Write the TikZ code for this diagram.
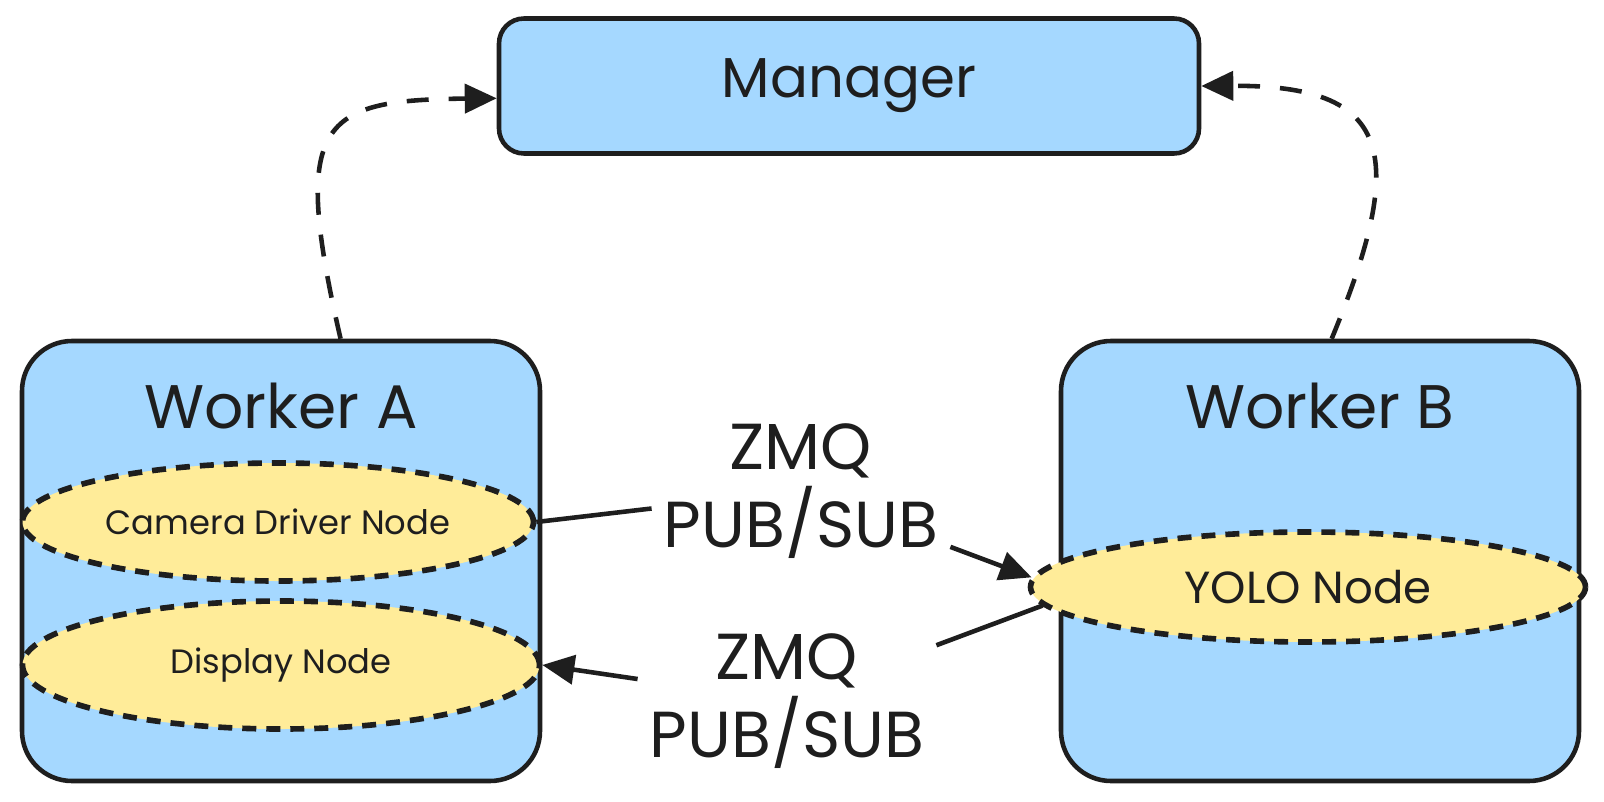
\documentclass[tikz,border=0pt]{standalone}
\usepackage{fontspec}
\setmainfont{Poppins}
\usetikzlibrary{arrows.meta,shapes.geometric}
\definecolor{boxblue}{HTML}{A5D8FF}
\definecolor{nodeyellow}{HTML}{FFEC99}
\definecolor{ink}{HTML}{1E1E1E}

\begin{document}
\begin{tikzpicture}[x=0.1mm,y=-0.1mm,line width=1.3pt,
  worker/.style={draw=ink,fill=boxblue,rounded corners=5mm,
    minimum width=51.8mm,minimum height=44mm},
  rosnode/.style={ellipse,draw=ink,fill=nodeyellow,inner sep=0pt,line width=1.6pt,
    dash pattern=on 1.4mm off 1mm,text=ink},
  title/.style={font=\fontsize{17.5}{21}\selectfont,text=ink},
  zmq/.style={font=\fontsize{18.5}{22}\selectfont,text=ink,align=center,inner sep=1mm},
  link/.style={draw=ink,-{Triangle[length=3.2mm,width=2.9mm]}}]

  \useasboundingbox (0,0) rectangle (1604,802);

  \node[title,font=\fontsize{16}{19}\selectfont,draw=ink,fill=boxblue,
    rounded corners=2.5mm,minimum width=70mm,minimum height=13.5mm] (manager) at (849,86) {Manager};

  \foreach \n/\x/\t in {workerA/281/Worker A,workerB/1320/Worker B}{
    \node[worker] (\n) at (\x,561) {};
    \node[title] (\n title) at (\x,406) {\t};
  }

  \begin{scope}[font=\fontsize{9.6}{12}\selectfont]
    \node[rosnode,minimum width=51.1mm,minimum height=11.8mm] (camera) at (278,522) {Camera Driver Node};
    \node[rosnode,minimum width=51.7mm,minimum height=12.8mm] (display) at (281,665) {Display Node};
  \end{scope}
  \node[rosnode,minimum width=55.5mm,minimum height=11mm,
    font=\fontsize{12.8}{15}\selectfont] (yolo) at (1308,587) {YOLO Node};

  \node[zmq] (zmqtop) at (801,491) {ZMQ\\PUB/SUB};
  \node[zmq] (zmqbot) at (787,701) {ZMQ\\PUB/SUB};

  \draw[ink] (camera.east) -- (zmqtop);
  \draw[link] (zmqtop) -- (yolo.178);
  \draw[ink] (yolo.184) -- (zmqbot);
  \draw[link] (zmqbot) -- (display.east);

  \begin{scope}[dash pattern=on 2.2mm off 2mm]
    \draw[link] (workerA.75.5) .. controls (290,120) and (320,100) .. (manager.182);
    \draw[link] (workerB.87.5) .. controls (1410,150) and (1390,85) .. (manager.0);
  \end{scope}
\end{tikzpicture}
\end{document}
